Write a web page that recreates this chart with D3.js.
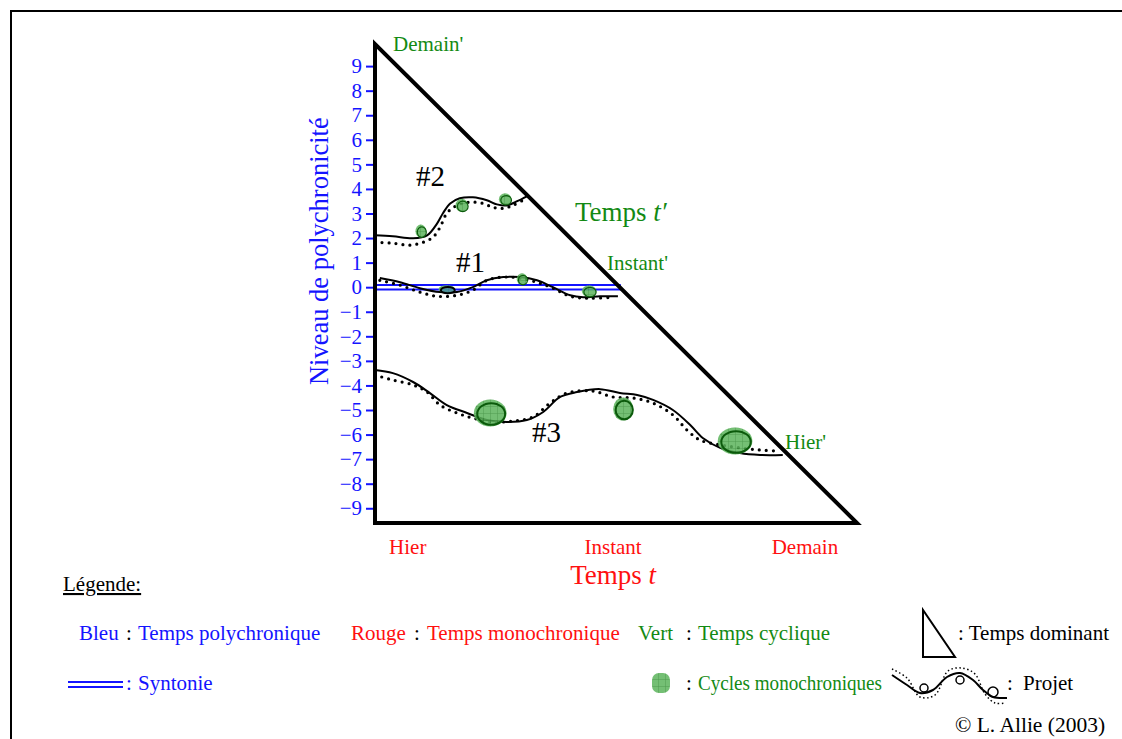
<!DOCTYPE html>
<html>
<head>
<meta charset="utf-8">
<script src="https://cdn.jsdelivr.net/npm/d3@7"></script>
<style>
  body { margin: 0; background: #fff; }
  svg { display: block; font-family: "Liberation Serif", "DejaVu Serif", serif; }
</style>
</head>
<body>
<div id="graph"></div>
<script>
// niveau de polychronicite (axe vertical)
const levelTicks = [9, 8, 7, 6, 5, 4, 3, 2, 1, 0, -1, -2, -3, -4, -5, -6, -7, -8, -9];
// temps t (axe horizontal, 0..10)
const timeLabels = ["Hier", "Instant", "Demain"];
const timeLabelPos = [0.68, 4.94, 8.92];
const triangle = [[0, 9.9], [0, -9.6], [10, -9.6]];

// projet #2
const p2x = [0, 0.37, 0.79, 1.08, 1.29, 1.41, 1.56, 1.76, 2.03, 2.32, 2.53, 2.74, 2.95, 3.15];
const p2y = [2.11, 2.07, 1.99, 2.11, 2.60, 3.01, 3.41, 3.62, 3.66, 3.54, 3.37, 3.33, 3.50, 3.70];
const p2dx = [0, 0.37, 0.73, 1.00, 1.20, 1.35, 1.49, 1.70, 1.97, 2.24, 2.45, 2.66, 2.86, 3.07];
const p2dy = [1.83, 1.79, 1.71, 1.83, 2.03, 2.44, 3.01, 3.33, 3.46, 3.41, 3.25, 3.21, 3.33, 3.54];
// projet #1
const p1x = [0.10, 0.52, 0.93, 1.35, 1.70, 2.03, 2.32, 2.66, 3.01, 3.36, 3.69, 4.05, 4.32, 4.67, 5.04];
const p1y = [0.37, 0.20, -0.04, -0.20, -0.20, 0, 0.28, 0.41, 0.41, 0.28, 0, -0.33, -0.41, -0.37, -0.37];
const p1dx = [0.10, 0.52, 0.93, 1.29, 1.70, 2.03, 2.32, 2.66, 3.01, 3.36, 3.69, 4.05, 4.46, 4.94];
const p1dy = [0.28, 0.08, -0.20, -0.37, -0.33, -0.12, 0.28, 0.41, 0.37, 0.20, -0.04, -0.37, -0.45, -0.41];
// projet #3
const p3x = [0, 0.37, 0.79, 1.14, 1.49, 1.91, 2.32, 2.74, 3.15, 3.49, 3.84, 4.19, 4.67, 5.08, 5.44, 5.77, 6.18, 6.54, 6.80, 7.16, 7.57, 7.99, 8.46];
const p3y = [-3.37, -3.50, -3.86, -4.31, -4.80, -5.12, -5.41, -5.49, -5.41, -5.08, -4.47, -4.27, -4.15, -4.31, -4.39, -4.59, -5.00, -5.61, -6.14, -6.54, -6.75, -6.83, -6.83];
const p3dx = [0, 0.37, 0.79, 1.08, 1.35, 1.70, 2.03, 2.45, 2.86, 3.28, 3.63, 3.98, 4.52, 4.94, 5.35, 5.77, 6.18, 6.47, 6.74, 7.16, 7.57, 7.99, 8.34];
const p3dy = [-3.58, -3.78, -3.98, -4.27, -4.80, -5.12, -5.33, -5.49, -5.45, -5.28, -4.72, -4.31, -4.23, -4.47, -4.51, -4.72, -5.20, -5.81, -6.22, -6.42, -6.54, -6.63, -6.67];

// cycles monochroniques : centre (t, niveau), demi-duree, demi-amplitude
const cycT = [0.95, 1.80, 2.70, 1.49, 3.05, 4.44, 2.39, 5.15, 7.47];
const cycL = [2.28, 3.33, 3.58, -0.08, 0.33, -0.16, -5.12, -4.96, -6.26];
const cycW = [0.11, 0.13, 0.13, 0.17, 0.11, 0.15, 0.34, 0.21, 0.36];
const cycH = [0.27, 0.27, 0.24, 0.16, 0.24, 0.24, 0.55, 0.47, 0.55];

// syntonie (double ligne bleue)
const syntonie = [0.09, -0.09];
const syntonieT = [0, 5.1];

const W = 1122, H = 739;
const BLUE = "#1414ff", RED = "#ff1010", GREEN = "#138a13";

const x = d3.scaleLinear().domain([0, 10]).range([375, 857]);
const y = d3.scaleLinear().domain([-9.6, 9.9]).range([523, 44]);

const svg = d3.select("#graph").append("svg").attr("width", W).attr("height", H);

// cadre
svg.append("rect").attr("x", 11).attr("y", 11).attr("width", 1300).attr("height", 900)
  .attr("fill", "none").attr("stroke", "#000").attr("stroke-width", 2);

const defs = svg.append("defs");
const pat = defs.append("pattern").attr("id", "grid").attr("width", 7).attr("height", 7)
  .attr("patternUnits", "userSpaceOnUse");
pat.append("rect").attr("width", 7).attr("height", 7).attr("fill", "#5cb45c");
pat.append("path").attr("d", "M0 0H7M0 0V7").attr("stroke", "#2f8a2f").attr("stroke-width", 1);

// syntonie
syntonie.forEach(v => {
  svg.append("line").attr("x1", x(syntonieT[0])).attr("x2", x(syntonieT[1]))
    .attr("y1", y(v)).attr("y2", y(v)).attr("stroke", BLUE).attr("stroke-width", 2);
});

const line = d3.line().x(d => x(d[0])).y(d => y(d[1])).curve(d3.curveCatmullRom);
const zip = (a, b) => a.map((v, i) => [v, b[i]]);

const projets = [[p2x, p2y, p2dx, p2dy], [p1x, p1y, p1dx, p1dy], [p3x, p3y, p3dx, p3dy]];
projets.forEach(p => {
  svg.append("path").attr("d", line(zip(p[0], p[1]))).attr("fill", "none")
    .attr("stroke", "#000").attr("stroke-width", 2);
  svg.append("path").attr("d", line(zip(p[2], p[3]))).attr("fill", "none")
    .attr("stroke", "#000").attr("stroke-width", 3.2).attr("stroke-linecap", "round")
    .attr("stroke-dasharray", "0 7");
});

// cycles
cycT.forEach((t, i) => {
  const rx = x(t + cycW[i]) - x(t), ry = y(cycL[i]) - y(cycL[i] + cycH[i]);
  const g = svg.append("g");
  g.append("ellipse").attr("cx", x(t)).attr("cy", y(cycL[i])).attr("rx", rx).attr("ry", ry)
    .attr("fill", "url(#grid)").attr("opacity", 0.85);
  g.append("ellipse").attr("cx", x(t) + 1).attr("cy", y(cycL[i]) + 1).attr("rx", rx * 0.85).attr("ry", ry * 0.8)
    .attr("fill", i === 3 ? "rgba(60,120,200,0.5)" : "none")
    .attr("stroke", i === 3 ? "#000" : "#0b5a0b").attr("stroke-width", i >= 6 || i === 3 ? 2 : 1.2);
});

// triangle du temps dominant
svg.append("path").attr("d", d3.line().x(d => x(d[0])).y(d => y(d[1]))(triangle) + "Z")
  .attr("fill", "none").attr("stroke", "#000").attr("stroke-width", 4).attr("stroke-linejoin", "miter");

// axe vertical
const axis = svg.append("g").attr("transform", `translate(${x(0) - 2},0)`)
  .call(d3.axisLeft(y).tickValues(levelTicks).tickSize(7).tickPadding(4).tickFormat(d3.format("d")));
axis.select(".domain").remove();
axis.selectAll(".tick line").attr("stroke", BLUE).attr("stroke-width", 2);
axis.selectAll(".tick text").attr("fill", BLUE).attr("font-size", 21).attr("font-family", "Liberation Serif");

svg.append("text").attr("transform", `translate(328,${y(0) - 36}) rotate(-90)`)
  .attr("text-anchor", "middle").attr("fill", BLUE).attr("font-size", 26.5).text("Niveau de polychronicité");

// axe horizontal
timeLabels.forEach((s, i) => {
  svg.append("text").attr("x", x(timeLabelPos[i])).attr("y", 554).attr("text-anchor", "middle")
    .attr("fill", RED).attr("font-size", 21).text(s);
});
const tt = svg.append("text").attr("x", x(4.94)).attr("y", 584).attr("text-anchor", "middle")
  .attr("fill", RED).attr("font-size", 27);
tt.append("tspan").text("Temps ");
tt.append("tspan").attr("font-style", "italic").text("t");

// temps t'
svg.append("text").attr("x", 393).attr("y", 51).attr("fill", GREEN).attr("font-size", 21).text("Demain'");
svg.append("text").attr("x", 607).attr("y", 270).attr("fill", GREEN).attr("font-size", 21).text("Instant'");
svg.append("text").attr("x", 785).attr("y", 449).attr("fill", GREEN).attr("font-size", 21).text("Hier'");
const tp = svg.append("text").attr("x", 575).attr("y", 221).attr("fill", GREEN).attr("font-size", 27);
tp.append("tspan").text("Temps ");
tp.append("tspan").attr("font-style", "italic").text("t′");

// numeros des projets
[["#2", 416, 186], ["#1", 456, 272], ["#3", 532, 442]].forEach(d => {
  svg.append("text").attr("x", d[1]).attr("y", d[2]).attr("font-size", 29).text(d[0]);
});

// legende
svg.append("text").attr("x", 63).attr("y", 591).attr("font-size", 21)
  .attr("text-decoration", "underline").text("Légende:");

function lt(x0, y0, s, c) {
  return svg.append("text").attr("x", x0).attr("y", y0).attr("font-size", 21).attr("fill", c).text(s);
}
lt(79, 640, "Bleu", BLUE); lt(126, 640, ":", "#000"); lt(138, 640, "Temps polychronique", BLUE);
lt(351, 640, "Rouge", RED); lt(414, 640, ":", "#000"); lt(427, 640, "Temps monochronique", RED);
lt(638, 640, "Vert", GREEN); lt(686, 640, ":", "#000"); lt(698, 640, "Temps cyclique", GREEN);
lt(958, 640, ": Temps dominant", "#000");

svg.append("path").attr("d", "M923,610 L923,657 L955,657 Z").attr("fill", "none")
  .attr("stroke", "#000").attr("stroke-width", 2);

svg.append("line").attr("x1", 68).attr("x2", 123).attr("y1", 682).attr("y2", 682).attr("stroke", BLUE).attr("stroke-width", 2);
svg.append("line").attr("x1", 68).attr("x2", 123).attr("y1", 687).attr("y2", 687).attr("stroke", BLUE).attr("stroke-width", 2);
lt(126, 690, ":", BLUE); lt(138, 690, "Syntonie", BLUE);

svg.append("rect").attr("x", 652).attr("y", 673).attr("width", 18).attr("height", 20).attr("rx", 7)
  .attr("fill", "url(#grid)").attr("opacity", 0.85);
lt(686, 690, ":", "#000");
lt(698, 690, "Cycles monochroniques", GREEN).attr("textLength", 184).attr("lengthAdjust", "spacingAndGlyphs");

// icone projet
const iconPts = [[892, 675], [907, 685], [920, 693], [933, 690], [947, 677], [960, 673], [973, 680], [983, 690], [993, 697], [1007, 698]];
const iconDots = [[892, 669], [907, 678], [920, 697], [935, 695], [948, 671], [962, 668], [975, 674], [985, 694], [995, 703], [1005, 703]];
const lp = d3.line().curve(d3.curveCatmullRom);
svg.append("path").attr("d", lp(iconPts)).attr("fill", "none").attr("stroke", "#000").attr("stroke-width", 2);
svg.append("path").attr("d", lp(iconDots)).attr("fill", "none").attr("stroke", "#000").attr("stroke-width", 1.5)
  .attr("stroke-dasharray", "1.5 2.5");
[[924, 688, 4], [960, 680, 4], [993, 692, 5]].forEach(c => {
  svg.append("circle").attr("cx", c[0]).attr("cy", c[1]).attr("r", c[2]).attr("fill", "none")
    .attr("stroke", "#000").attr("stroke-width", 1.5);
});
lt(1007, 690, ":", "#000"); lt(1023, 690, "Projet", "#000");

svg.append("text").attr("x", 955).attr("y", 732).attr("font-size", 21.5).text("© L. Allie (2003)");
</script>
</body>
</html>
